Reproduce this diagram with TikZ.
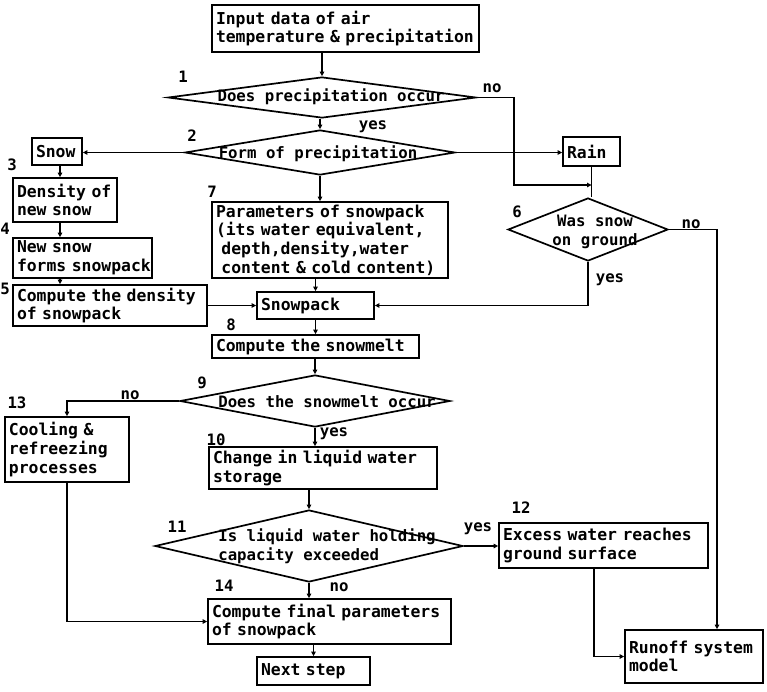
\documentclass[tikz,border=0pt]{standalone}
\usepackage{fontspec}
\setmonofont{DejaVu Sans Mono}
\usetikzlibrary{arrows.meta,shapes.geometric}
\begin{document}
\begin{tikzpicture}[x=1pt,y=-1pt,
  every node/.style={font=\ttfamily\bfseries\fontsize{16.4}{18.7}\selectfont},
  bx/.style={draw, rectangle, line width=1.7pt, inner xsep=4pt, inner ysep=0pt, align=left},
  dia/.style={draw, diamond, line width=1.7pt, inner sep=0pt},
  dtext/.style={align=left, inner sep=0pt, font=\ttfamily\bfseries\fontsize{15.7}{18.7}\selectfont},
  lab/.style={inner sep=0pt, font=\ttfamily\bfseries\fontsize{15.7}{18.7}\selectfont},
  arr/.style={line width=1.5pt, -{Triangle[length=4.5pt,width=4.5pt]}},
  ln/.style={line width=1.5pt}]
\useasboundingbox (0,0) rectangle (767,691);

% boxes
\node[bx, text width=259pt, minimum height=47pt] (in) at (345.5,28.5) {Input data of air\\\mbox{temperature \& precipitation}};
\node[bx, text width=42pt, minimum height=27pt] (snow) at (57,151.5) {Snow};
\node[bx, text width=49pt, minimum height=29pt] (rain) at (591.5,151.5) {Rain};
\node[bx, text width=96pt, minimum height=44pt] (dens) at (65,200) {\mbox{Density of}\\new snow};
\node[bx, text width=131pt, minimum height=40pt] (newsnow) at (82.5,258) {New snow\\\mbox{forms snowpack}};
\node[bx, text width=186pt, minimum height=41pt] (compd) at (110,305.5) {\mbox{Compute the density}\\of snowpack};
\node[bx, text width=228pt, minimum height=76pt] (param) at (330,240) {\mbox{Parameters of snowpack}\\\mbox{(its water equivalent,}\\\mbox{ depth,density,water}\\\mbox{ content \& cold content)}};
\node[bx, text width=109pt, minimum height=27pt] (snowpack) at (315.5,305.5) {Snowpack};
\node[bx, text width=199pt, minimum height=23pt] (snowmelt) at (315.5,346.5) {\mbox{Compute the snowmelt}};
\node[bx, text width=116pt, minimum height=65pt] (cool) at (67,449.5) {\mbox{Cooling \&}\\refreezing\\processes};
\node[bx, text width=220pt, minimum height=42pt] (change) at (323,468) {\mbox{Change in liquid water}\\storage};
\node[bx, text width=201pt, minimum height=45pt] (excess) at (603.5,545.5) {\mbox{Excess water reaches}\\\mbox{ground surface}};
\node[bx, text width=235pt, minimum height=45pt] (final) at (329.5,621.5) {\mbox{Compute final parameters}\\of snowpack};
\node[bx, text width=105pt, minimum height=28pt] (next) at (313.5,671) {Next step};
\node[bx, text width=130pt, minimum height=53pt] (runoff) at (694,656.5) {\mbox{Runoff system}\\model};

% diamonds
\node[dia, minimum width=308pt, minimum height=41pt] (d1) at (322,97.5) {};
\node[dia, minimum width=270pt, minimum height=45pt] (d2) at (320,152.5) {};
\node[dia, minimum width=160pt, minimum height=63pt] (d6) at (588,229.5) {};
\node[dia, minimum width=270pt, minimum height=52pt] (d9) at (315,401) {};
\node[dia, minimum width=308pt, minimum height=72pt] (d11) at (309,546) {};

\node[dtext] (d1t) at (331,97) {Does precipitation occur};
\node[dtext] (d2t) at (318,154) {Form of precipitation};
\node[dtext, align=center] (d6t) at (595,232) {Was snow\\on ground};
\node[dtext] (d9t) at (327,402) {Does the snowmelt occur};
\node[dtext] (d11t) at (327,546) {Is liquid water holding\\capacity exceeded};

% numbers
\node[lab] (n1) at (183,77) {1};
\node[lab] (n2) at (192,136) {2};
\node[lab] (n3) at (12,165) {3};
\node[lab] (n4) at (5,229) {4};
\node[lab] (n5) at (5,289) {5};
\node[lab] (n6) at (517,212) {6};
\node[lab] (n7) at (212,192) {7};
\node[lab] (n8) at (231,325) {8};
\node[lab] (n9) at (202,383) {9};
\node[lab] (n10) at (216,440) {10};
\node[lab] (n11) at (177,527) {11};
\node[lab] (n12) at (521,508) {12};
\node[lab] (n13) at (17,403) {13};
\node[lab] (n14) at (224,586) {14};

% yes / no
\node[lab] (no1) at (492,88) {no};
\node[lab] (yes1) at (373,127) {yes};
\node[lab] (no6) at (691,224) {no};
\node[lab] (yes6) at (610,280) {yes};
\node[lab] (no9) at (130,395) {no};
\node[lab] (yes9) at (334,434) {yes};
\node[lab] (yes11) at (478,529) {yes};
\node[lab] (no11) at (339,587) {no};

% helper coordinates
\coordinate (c1) at (514,185);
\coordinate (join) at (rain.south |- c1);
\coordinate (rtop) at ([xshift=23pt]runoff.north);
\coordinate (exs) at ([xshift=-9.5pt]excess.south);
\coordinate (lcol) at (60,0);

% connectors
\draw[arr] (in.south -| d1.north) -- (d1.north);
\draw[arr] (d1.south -| d2.north) -- (d2.north);
\draw[arr] (d1.east) -| (c1) -- (join);
\draw[ln] (rain.south) -- (rain.south |- d6.north);
\draw[arr] (d2.west) -- (d2.west -| snow.east);
\draw[arr] (d2.east) -- (d2.east -| rain.west);
\draw[arr] (snow.south -| lcol) -- (dens.north -| lcol);
\draw[arr] (dens.south -| lcol) -- (newsnow.north -| lcol);
\draw[arr] (newsnow.south -| lcol) -- (compd.north -| lcol);
\draw[arr] (compd.east) -- (snowpack.west);
\draw[arr] (d2.south) -- (d2.south |- param.north);
\draw[arr] (param.south -| snowpack.north) -- (snowpack.north);
\draw[arr] (d6.east) -| (rtop);
\draw[arr] (d6.south) |- (snowpack.east);
\draw[arr] (snowpack.south) -- (snowmelt.north);
\draw[arr] (snowmelt.south -| d9.north) -- (d9.north);
\draw[arr] (d9.west) -| (cool.north);
\draw[arr] (d9.south) -- (d9.south |- change.north);
\draw[arr] (change.south -| d11.north) -- (d11.north);
\draw[arr] (d11.east) -- (d11.east -| excess.west);
\draw[arr] (d11.south) -- (d11.south |- final.north);
\draw[arr] (cool.south) |- (final.west);
\draw[arr] (final.south -| next.north) -- (next.north);
\draw[arr] (exs) |- (runoff.west);
\end{tikzpicture}
\end{document}
